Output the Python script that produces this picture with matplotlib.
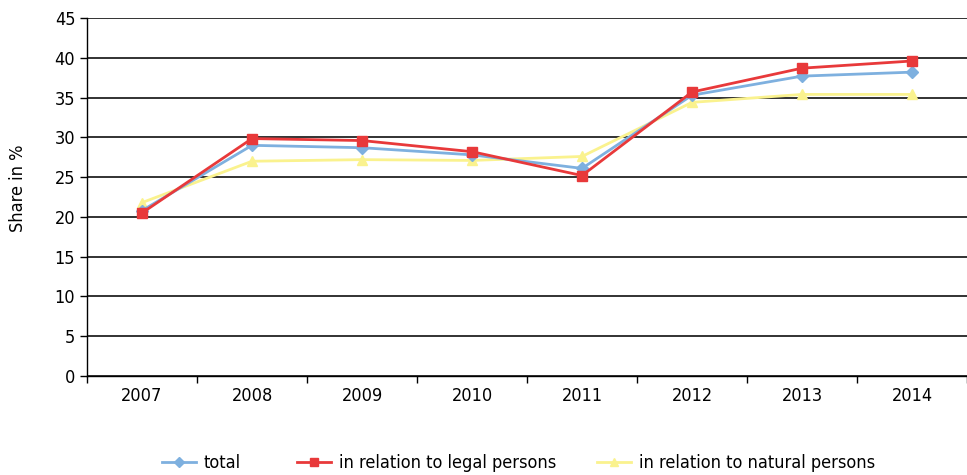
import matplotlib
matplotlib.use("Agg")
import matplotlib.pyplot as plt
from matplotlib import font_manager
import numpy as np

years = ["2007", "2008", "2009", "2010", "2011", "2012", "2013", "2014"]
total = [20.8, 29.0, 28.7, 27.8, 26.1, 35.3, 37.7, 38.2]
legal = [20.5, 29.85, 29.6, 28.2, 25.2, 35.7, 38.7, 39.6]
natural = [21.8, 27.0, 27.2, 27.1, 27.6, 34.4, 35.4, 35.4]
labels = ["total", "in relation to legal persons", "in relation to natural persons"]

names = {f.name for f in font_manager.fontManager.ttflist}
fam = "Liberation Sans Narrow" if "Liberation Sans Narrow" in names else "DejaVu Sans"
plt.rcParams['font.family'] = [fam, 'DejaVu Sans']
if fam == "DejaVu Sans":
    plt.rcParams['font.stretch'] = 'condensed'

fig = plt.figure(figsize=(9.67, 4.75), dpi=100)
ax = fig.add_axes([0.09, 0.2084, 0.91, 0.7536])

x = np.arange(len(years))
l1, = ax.plot(x, total, color="#7EB0DF", lw=2, marker="D", ms=6, label=labels[0], zorder=3)
l2, = ax.plot(x, legal, color="#E8393A", lw=2, marker="s", ms=7, label=labels[1], zorder=4)
l3, = ax.plot(x, natural, color="#FAF28E", lw=2, marker="^", ms=7, label=labels[2], zorder=2)

ax.set_xlim(-0.5, len(years) - 0.5)
ax.set_ylim(0, 45)
ax.set_yticks(range(0, 46, 5))
ax.set_xticks(x)
ax.set_xticklabels(years)
ax.set_xticks(np.arange(-0.5, len(years)), minor=True)
ax.tick_params(axis='x', which='major', length=0, labelsize=13, pad=8)
ax.tick_params(axis='x', which='minor', length=5, width=1, direction='out')
ax.tick_params(axis='y', length=5, width=1, direction='out', labelsize=13)
ax.yaxis.grid(True, color="#222222", lw=1.3)
ax.set_axisbelow(True)
for s in ['top', 'right']:
    ax.spines[s].set_visible(False)
for s in ['left', 'bottom']:
    ax.spines[s].set_color('black')
    ax.spines[s].set_linewidth(1)
ax.set_ylabel("Share in %", fontsize=13)
ax.yaxis.set_label_coords(-0.068, 0.525)

for h, xpos in zip([l1, l2, l3], [162, 297, 597]):
    lg = fig.legend(handles=[h], loc='center left', bbox_to_anchor=(xpos / 967, 0.025),
                    frameon=False, fontsize=13, handlelength=1.9, handletextpad=0.4,
                    borderpad=0, borderaxespad=0, markerscale=0.8)

fig.savefig("out.png", dpi=100)
